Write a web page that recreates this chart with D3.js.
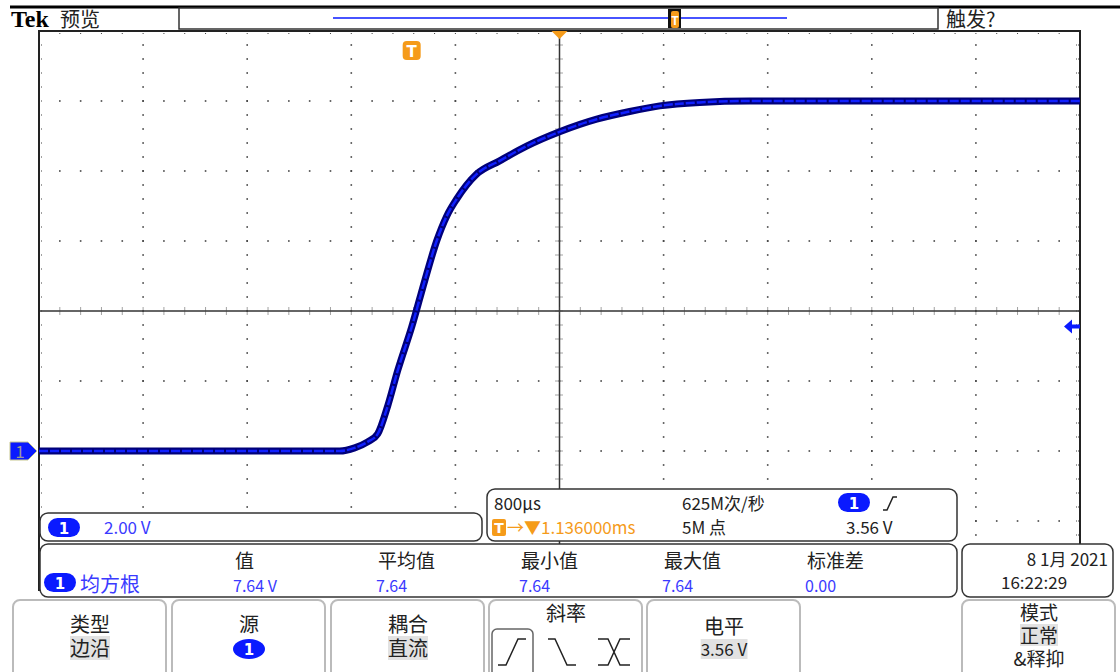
<!DOCTYPE html>
<html>
<head>
<meta charset="utf-8">
<script src="https://cdn.jsdelivr.net/npm/d3@7"></script>
<style>
body { margin: 0; background: #fff; }
svg { display: block; }
text { font-family: "Noto Sans CJK SC", "DejaVu Sans", sans-serif; }
</style>
</head>
<body>
<svg id="scope" width="1120" height="672"></svg>
<script>
// waveform: time relative to trigger (ms), volts
var traceTimes = [-2.864, -0.553, -0.438, -0.338, -0.261, -0.184, -0.108, 0, 0.100, 0.192, 0.269, 0.346, 0.499, 0.676, 0.883, 1.137, 1.422, 1.675, 1.906, 2.213, 2.598, 5.136];
var traceVolts = [0, 0, 0.09, 0.26, 0.49, 1.29, 2.29, 3.54, 4.86, 6.00, 6.71, 7.20, 7.91, 8.29, 8.71, 9.12, 9.48, 9.70, 9.86, 9.96, 10.0, 10.0];

var timePerDiv = 0.8;      // ms
var voltsPerDiv = 2.0;
var triggerDelay = 1.136;  // ms, trigger left of centre
var groundDivs = -2;       // channel offset
var triggerLevel = 3.56;

var measHeaders = ["值", "平均值", "最小值", "最大值", "标准差"];
var measValues = ["7.64 V", "7.64", "7.64", "7.64", "0.00"];
var buttonTop = ["类型", "源", "耦合", "斜率", "电平", "模式"];

var svg = d3.select('#scope');
var plot = {left: 39, right: 1080, top: 31, bottom: 591};
var hDivs = 10, vDivs = 8;

var x = d3.scaleLinear()
	.domain([triggerDelay - timePerDiv * hDivs / 2, triggerDelay + timePerDiv * hDivs / 2])
	.range([plot.left, plot.right]);
var centerV = -groundDivs * voltsPerDiv;
var y = d3.scaleLinear()
	.domain([centerV - voltsPerDiv * vDivs / 2, centerV + voltsPerDiv * vDivs / 2])
	.range([plot.bottom, plot.top]);

var divW = (plot.right - plot.left) / hDivs;
var divH = (plot.bottom - plot.top) / vDivs;
var cx = plot.left + divW * hDivs / 2;
var cy = plot.top + divH * vDivs / 2;

// ---- graticule ----
var grid = svg.append('g').attr('id', 'grid');
var dots = [];
for (var i = 1; i < hDivs; i++) {
	if (i == hDivs / 2) continue;
	for (var k = 1; k < vDivs * 5; k++)
		dots.push([plot.left + i * divW, plot.top + k * divH / 5]);
}
for (var j = 1; j < vDivs; j++) {
	if (j == vDivs / 2) continue;
	for (var k = 1; k < hDivs * 5; k++)
		dots.push([plot.left + k * divW / 5, plot.top + j * divH]);
}
grid.selectAll('rect.dot').data(dots).enter().append('rect')
	.attr('class', 'dot')
	.attr('x', function(d) { return d[0] - 0.8; })
	.attr('y', function(d) { return d[1] - 0.8; })
	.attr('width', 1.6).attr('height', 1.6)
	.style('fill', '#444');

// centre cross with minor ticks
grid.append('line').attr('x1', plot.left).attr('x2', plot.right).attr('y1', cy).attr('y2', cy)
	.style('stroke', '#333').style('stroke-width', 1.5);
grid.append('line').attr('x1', cx).attr('x2', cx).attr('y1', plot.top).attr('y2', plot.bottom)
	.style('stroke', '#333').style('stroke-width', 1.5);
var ticks = [];
for (var k = 1; k < hDivs * 5; k++) {
	var tx = plot.left + k * divW / 5;
	ticks.push([tx, cy - 3.5, tx, cy + 3.5]);
	ticks.push([tx, plot.top, tx, plot.top + 4]);
}
for (var k = 1; k < vDivs * 5; k++) {
	var ty = plot.top + k * divH / 5;
	ticks.push([cx - 4, ty, cx + 4, ty]);
	ticks.push([plot.left, ty, plot.left + 4, ty]);
	ticks.push([plot.right - 4, ty, plot.right, ty]);
}
grid.selectAll('line.tick').data(ticks).enter().append('line')
	.attr('class', 'tick')
	.attr('x1', function(d) { return d[0]; }).attr('y1', function(d) { return d[1]; })
	.attr('x2', function(d) { return d[2]; }).attr('y2', function(d) { return d[3]; })
	.style('stroke', '#444').style('stroke-width', 1)
	.style('stroke-dasharray', '1,1');

// frame
grid.append('path')
	.attr('d', 'M' + plot.left + ',' + plot.bottom + ' V' + plot.top + ' H' + plot.right + ' V' + plot.bottom)
	.style('fill', 'none').style('stroke', '#222').style('stroke-width', 2);

// ---- trace ----
var pts = traceTimes.map(function(t, i) { return [t, traceVolts[i]]; });
var line = d3.line()
	.x(function(d) { return x(d[0]); })
	.y(function(d) { return y(d[1]); })
	.curve(d3.curveMonotoneX);
svg.append('path').attr('d', line(pts))
	.style('fill', 'none').style('stroke', '#00007a').style('stroke-width', 7);
svg.append('path').attr('d', line(pts))
	.style('fill', 'none').style('stroke', '#1020ff').style('stroke-width', 2.5)
	.style('stroke-dasharray', '9,2');

// ---- markers ----
var orange = '#f59b1a';
var blue = '#0a1aff';
// trigger position "T"
var tX = x(0);
svg.append('rect').attr('x', tX - 9).attr('y', 41).attr('width', 18).attr('height', 19).attr('rx', 4)
	.style('fill', orange);
svg.append('text').attr('x', tX).attr('y', 57).attr('text-anchor', 'middle')
	.style('font-family', 'DejaVu Sans').style('font-weight', 'bold').style('font-size', '15px')
	.style('fill', '#fff').text('T');
// expansion point
svg.append('path').attr('d', 'M' + (cx - 8) + ',31 L' + (cx + 8) + ',31 L' + cx + ',39 Z').style('fill', orange);
// channel 1 ground marker
var gY = y(0);
svg.append('path')
	.attr('d', 'M10,' + (gY - 9) + ' H28 L37,' + gY + ' L28,' + (gY + 9) + ' H10 Z')
	.style('fill', blue).style('stroke', '#c8c890').style('stroke-width', 1);
svg.append('text').attr('x', 20).attr('y', gY + 7).attr('text-anchor', 'middle')
	.style('font-size', '17px').style('fill', '#999').text('1');
// trigger level arrow
var lY = y(triggerLevel);
svg.append('path')
	.attr('d', 'M' + (plot.right - 16) + ',' + lY + ' L' + (plot.right - 8) + ',' + (lY - 7) + ' V' + (lY - 2) +
		' H' + plot.right + ' V' + (lY + 2) + ' H' + (plot.right - 8) + ' V' + (lY + 7) + ' Z')
	.style('fill', blue);

// ---- top bar ----
svg.append('line').attr('x1', 10).attr('x2', 1120).attr('y1', 7).attr('y2', 7)
	.style('stroke', '#000').style('stroke-width', 3);
svg.append('text').attr('x', 11).attr('y', 27)
	.style('font-family', 'Liberation Serif').style('font-weight', 'bold').style('font-size', '24px')
	.text('Tek');
svg.append('text').attr('x', 60).attr('y', 27).style('font-size', '20px').style('fill', '#222').text('预览');
svg.append('rect').attr('x', 179).attr('y', 8).attr('width', 759).attr('height', 21)
	.style('fill', '#fff').style('stroke', '#333').style('stroke-width', 1.5);
svg.append('line').attr('x1', 333).attr('x2', 787).attr('y1', 18).attr('y2', 18)
	.style('stroke', blue).style('stroke-width', 1.5);
svg.append('rect').attr('x', 668).attr('y', 9).attr('width', 13).attr('height', 19)
	.style('fill', '#111');
svg.append('rect').attr('x', 671).attr('y', 11).attr('width', 8).attr('height', 17).attr('rx', 2)
	.style('fill', orange);
svg.append('text').attr('x', 675).attr('y', 25).attr('text-anchor', 'middle')
	.style('font-size', '12px').style('font-weight', 'bold').style('fill', '#fff').text('T');
svg.append('text').attr('x', 946).attr('y', 27).style('font-size', '20px').style('fill', '#222').text('触发?');

// ---- readout boxes ----
function box(x0, y0, w, h) {
	svg.append('rect').attr('x', x0).attr('y', y0).attr('width', w).attr('height', h).attr('rx', 8)
		.style('fill', '#fff').style('stroke', '#333').style('stroke-width', 1.5);
}
function pill(px, py) {
	svg.append('rect').attr('x', px).attr('y', py).attr('width', 32).attr('height', 19).attr('rx', 9.5)
		.style('fill', blue);
	svg.append('text').attr('x', px + 16).attr('y', py + 16).attr('text-anchor', 'middle')
		.style('font-family', 'DejaVu Sans').style('font-weight', 'bold').style('font-size', '15px')
		.style('fill', '#fff').text('1');
}
function label(tx, ty, str, color, size, anchor) {
	return svg.append('text').attr('x', tx).attr('y', ty)
		.attr('text-anchor', anchor || 'start')
		.style('font-size', (size || 17) + 'px').style('fill', color || '#222').text(str);
}

box(40, 513, 442, 28);
pill(48, 518);
label(104, 534, '2.00 V', '#3a3aff');

box(487, 489, 470, 52);
label(494, 510, '800µs');
label(682, 510, '625M次/秒');
pill(838, 493);
svg.append('path').attr('d', 'M883,510 L887,510 L893,497 L897,497')
	.style('fill', 'none').style('stroke', '#222').style('stroke-width', 1.5);
svg.append('rect').attr('x', 492).attr('y', 519).attr('width', 14).attr('height', 17).attr('rx', 2)
	.style('fill', orange);
label(499, 533, 'T', '#fff', 14, 'middle').style('font-family', 'DejaVu Sans').style('font-weight', 'bold');
label(507, 534, '→▼1.136000ms', orange);
label(682, 534, '5M 点');
label(846, 534, '3.56 V');

box(40, 544, 917, 53);
var measX = d3.scalePoint().domain(d3.range(measHeaders.length)).range([235, 807]);
measHeaders.forEach(function(h, i) {
	label(measX(i), 568, h, '#222', 19);
	label(measX(i) - 2, 592, measValues[i], '#3a3aff', 16);
});
pill(44, 573);
label(80, 592, '均方根', '#3a3aff', 20);

box(962, 544, 151, 53);
label(1108, 566, '8 1月 2021', '#222', 17, 'end');
label(1001, 589, '16:22:29');

// ---- soft buttons ----
var btnX = [13, 172, 331, 489, 647, 962];
btnX.forEach(function(bx, i) {
	svg.append('rect').attr('x', bx).attr('y', 600).attr('width', 153).attr('height', 90).attr('rx', 7)
		.style('fill', '#fff').style('stroke', '#bbb').style('stroke-width', 2);
});
function btnText(cxp, ty, str, hl, size) {
	var t = label(cxp, ty, str, '#222', size || 20, 'middle');
	if (hl) {
		var bb = t.node().getBBox();
		svg.insert('rect', function() { return t.node(); })
			.attr('x', bb.x).attr('y', bb.y + 3).attr('width', bb.width).attr('height', bb.height - 5)
			.style('fill', '#e2e2e2');
	}
	return t;
}
btnText(btnX[0] + 77, 632, buttonTop[0]);
btnText(btnX[0] + 77, 656, '边沿', true);
btnText(btnX[1] + 77, 632, buttonTop[1]);
svg.append('ellipse').attr('cx', btnX[1] + 77).attr('cy', 649).attr('rx', 16).attr('ry', 10).style('fill', blue);
label(btnX[1] + 77, 655, '1', '#fff', 15, 'middle').style('font-family', 'DejaVu Sans').style('font-weight', 'bold');
btnText(btnX[2] + 77, 632, buttonTop[2]);
btnText(btnX[2] + 77, 656, '直流', true);
btnText(btnX[3] + 77, 621, buttonTop[3]);
svg.append('rect').attr('x', 492).attr('y', 629).attr('width', 41).attr('height', 50).attr('rx', 5)
	.style('fill', '#fff').style('stroke', '#666').style('stroke-width', 1.5);
var slopes = [
	'M498,665 H506 L518,639 H526',
	'M548,639 H555 L567,665 H576',
	'M598,639 H608 L620,665 H630 M598,665 H608 L620,639 H630'
];
slopes.forEach(function(d) {
	svg.append('path').attr('d', d).style('fill', 'none').style('stroke', '#222').style('stroke-width', 1.5);
});
btnText(btnX[4] + 77, 634, buttonTop[4]);
btnText(btnX[4] + 77, 656, '3.56 V', true, 17);
btnText(btnX[5] + 77, 620, buttonTop[5], false, 19);
btnText(btnX[5] + 77, 643, '正常', true, 19);
btnText(btnX[5] + 77, 666, '&释抑', false, 19);
</script>
</body>
</html>
